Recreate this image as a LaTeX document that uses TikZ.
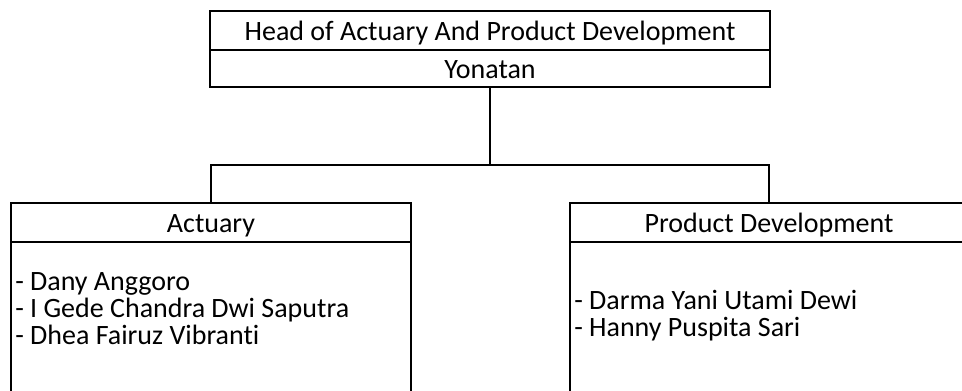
\documentclass[tikz,border=0pt]{standalone}
\usepackage{fontspec}
\setmainfont{Carlito}[Ligatures=NoCommon]
\usepackage{tikz}

\tikzset{
  cell/.style={draw,line width=1.3pt,rectangle,inner sep=0pt,text height=17pt,text depth=1.3pt,font=\fontsize{21}{24}\selectfont},
  item/.style={anchor=base west,align=left,inner sep=0pt,font=\fontsize{21}{19.9pt}\selectfont}
}

\begin{document}
\begin{tikzpicture}[x=0.75pt,y=-0.75pt]
				\clip (0,0) rectangle (962,390);
				\node (head) at (490,30.5) [cell,minimum width=420pt,minimum height=29.25pt] {Head of Actuary And Product Development};
				\node (yonatan) at (490,68.5) [cell,minimum width=420pt,minimum height=27.75pt] {Yonatan};
				
				\node (actuary) at (211,222.5) [cell,minimum width=300pt,minimum height=29.25pt] {Actuary};
				\node (actbody) at (211,342) [cell,minimum width=300pt,minimum height=150pt] {};
				\node (prod) at (769,222.5) [cell,minimum width=298.5pt,minimum height=29.25pt] {Product Development};
				\node (prodbody) at (769,342) [cell,minimum width=298.5pt,minimum height=150pt] {};
				
				% base of a multi-line node sits on its last line
				\node (actlist) at (15,344) [item] {- Dany Anggoro\\- I Gede Chandra Dwi Saputra\\- Dhea Fairuz Vibranti};
				\node (prodlist) at (574,336) [item] {- Darma Yani Utami Dewi\\- Hanny Puspita Sari};
				
				\coordinate (split) at (490,165);
				\draw[line width=1.3pt] (yonatan.south) -- (split);
				\draw[line width=1.3pt] (split) -| (actuary.north);
				\draw[line width=1.3pt] (split) -| (prod.north);
			\end{tikzpicture}
\end{document}
